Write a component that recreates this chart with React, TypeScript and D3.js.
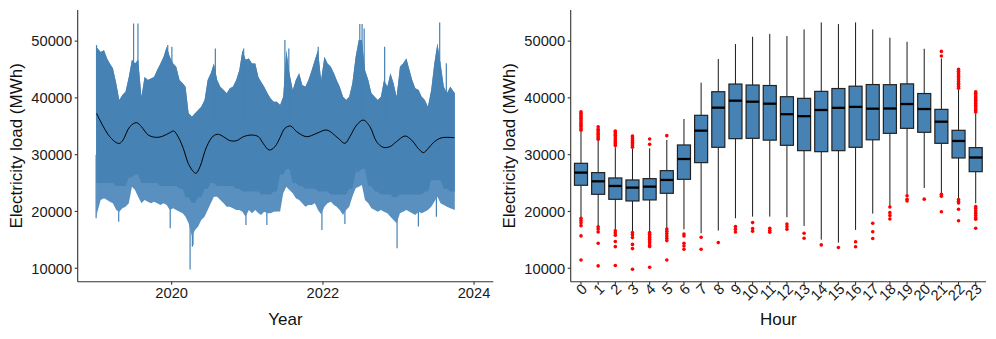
import React, { useEffect, useRef } from "react";
import * as d3 from "d3";

const firstDay = "2019-01-01";
const lastDay = "2023-09-30";
const loadTop = [
  49000, 48100, 48400, 46960, 46080, 45200, 42560, 39630, 40500, 41100, 43700, 46700,
  46080, 46700, 40200, 43700, 43150, 43400, 43700, 44900, 46080, 47250, 49000, 47250,
  46080, 45500, 43150, 42560, 41970, 37280, 36700, 37280, 37870, 38450, 39630, 43150,
  44320, 46080, 43150, 41970, 41390, 40800, 41680, 41970, 43150, 44900, 48400, 46700,
  46960, 46080, 46080, 43700, 42850, 41970, 40800, 39900, 39330, 39330, 38750, 40210,
  48400, 44320, 41390, 43150, 44320, 42270, 41970, 43150, 44900, 46700, 48400, 43150,
  47250, 46080, 45500, 44320, 43150, 41970, 40210, 39630, 40210, 42560, 47250, 50190,
  50190, 44900, 43150, 40800, 40210, 39630, 40210, 43150, 41970, 44320, 42560, 40210,
  45500, 46080, 46960, 44900, 43150, 41680, 41390, 40210, 39630, 38450, 41390, 46080,
  49600, 46080, 41970, 40800, 41970, 40800,
];
const loadBottom = [
  19100, 22000, 22320, 22000, 21730, 21440, 20260, 19970, 20560, 20850, 21440, 24370,
  23790, 22610, 21440, 22000, 21730, 21440, 21730, 21440, 21150, 21440, 21150, 20260,
  20560, 20260, 19970, 19680, 19090, 17920, 15570, 16740, 17330, 18500, 19090, 20260,
  21440, 22610, 22610, 22000, 21440, 20850, 20850, 20560, 20260, 20260, 19970, 19090,
  20260, 19680, 20260, 19680, 19390, 19970, 19680, 19680, 19970, 20000, 20000, 23200,
  24370, 23790, 23200, 22320, 22030, 21440, 20850, 21150, 21150, 21440, 20260, 19500,
  20850, 21440, 21730, 21150, 20850, 20260, 19390, 20260, 20850, 22610, 24080, 24370,
  24660, 22030, 21440, 20560, 20260, 19970, 20260, 19970, 19680, 19090, 18500, 17920,
  19680, 19970, 20260, 19970, 19680, 19390, 19970, 19680, 19970, 20260, 20850, 21730,
  22610, 21440, 21150, 20850, 20560, 20260,
];
// monthly lower edge of the dense (dark) part of the series
const coreBottom = [
  25000, 25000, 25000, 24500, 24500, 26000, 26500, 25000, 25000, 25000, 24500, 24500,
  24500, 24000, 22500, 21500, 22500, 24000, 25000, 24500, 24500, 24500, 24000, 23500,
  23500, 23500, 23000, 23000, 23500, 26500, 27500, 25000, 24500, 24000, 24000, 23500,
  23500, 23000, 23000, 23000, 24000, 27000, 27500, 24500, 23500, 23000, 23000, 22500,
  23000, 23000, 23000, 23000, 23500, 25500, 25500, 24000, 23500,
];
const peakDates = [
  "2019-01-03", "2019-07-01", "2019-07-22", "2019-12-13", "2020-01-02", "2020-07-30",
  "2020-12-14", "2021-07-01", "2021-07-20", "2021-12-09", "2022-06-28", "2022-07-09",
  "2022-07-19", "2022-10-26", "2023-07-19", "2023-08-20",
];
const peakValues = [
  49300, 53100, 53100, 49300, 49000, 48700, 48700, 50200, 48700, 49000, 53000, 53000,
  52200, 49000, 53300, 46100,
];
const troughDates = [
  "2019-01-01", "2019-04-20", "2019-12-25", "2020-03-30", "2020-04-10", "2020-04-13",
  "2020-12-25", "2021-04-05", "2021-12-27", "2022-04-17", "2022-12-25", "2023-04-07",
  "2023-07-03",
];
const troughValues = [
  18800, 18200, 17040, 9800, 13800, 14100, 17620, 17600, 16740, 17800, 13520, 17330,
  19090,
];
// smoothed trend (black line)
const trendDates = [
  "2019-01-03", "2019-02-05", "2019-03-08", "2019-04-09", "2019-04-25", "2019-05-11",
  "2019-06-13", "2019-07-15", "2019-08-08", "2019-09-10", "2019-10-20", "2019-11-21",
  "2019-12-23", "2020-01-11", "2020-02-01", "2020-02-26", "2020-03-21", "2020-04-15",
  "2020-04-28", "2020-05-17", "2020-06-18", "2020-07-20", "2020-08-14", "2020-09-07",
  "2020-10-09", "2020-11-10", "2020-12-13", "2021-01-22", "2021-02-23", "2021-03-18",
  "2021-04-16", "2021-05-14", "2021-06-08", "2021-07-01", "2021-07-29", "2021-08-27",
  "2021-10-14", "2021-12-02", "2022-01-19", "2022-03-16", "2022-04-17", "2022-05-11",
  "2022-06-13", "2022-07-15", "2022-08-16", "2022-09-17", "2022-10-19", "2022-11-20",
  "2022-12-22", "2023-02-01", "2023-03-05", "2023-04-06", "2023-05-01", "2023-05-25",
  "2023-06-18", "2023-07-20", "2023-08-13", "2023-09-28",
];
const trendValues = [
  37280, 34930, 33170, 32110, 32000, 32580, 34930, 35640, 34930, 33460, 33050, 33290,
  33870, 34170, 33170, 31120, 28480, 27010, 26720, 27890, 31410, 33290, 33580, 33170,
  32470, 32470, 33170, 33460, 33170, 32000, 30820, 31410, 33050, 34640, 35050, 34050,
  33170, 33760, 34340, 32880, 32000, 33170, 35230, 36100, 34930, 32290, 31300, 31410,
  32290, 33290, 32580, 31120, 30360, 31120, 32110, 32880, 33050, 32990,
];
const yearTicks = ["2020-01-01", "2022-01-01", "2024-01-01"];

// ---- right panel: load by hour of day
const hours = [
  "0", "1", "2", "3", "4", "5", "6", "7", "8", "9", "10", "11",
  "12", "13", "14", "15", "16", "17", "18", "19", "20", "21", "22", "23",
];
const whiskerLow = [
  18980, 17450, 16750, 16450, 16450, 17040, 16860, 16160, 16630, 18800, 19090, 19090,
  18980, 17450, 15040, 14520, 16750, 19620, 20900, 23000, 24140, 23200, 22320, 21440,
];
const boxQ1 = [
  24610, 23020, 22140, 21850, 22030, 23200, 25660, 28600, 31300, 32820, 32880, 32560,
  31650, 30710, 30530, 30710, 31300, 32620, 33760, 34640, 33940, 32000, 29420, 27010,
];
const boxMedian = [
  26840, 25310, 24490, 24200, 24370, 25550, 29240, 34230, 38280, 39510, 39330, 38980,
  37130, 36780, 37870, 38250, 38420, 38100, 38130, 38920, 38040, 35810, 32410, 29500,
];
const boxQ3 = [
  28480, 26840, 25900, 25550, 25780, 27190, 31710, 36930, 41090, 42440, 42270, 42180,
  40210, 39920, 41150, 41650, 42060, 42350, 42330, 42470, 40770, 37980, 34290, 31240,
];
const whiskerHigh = [
  34050, 32410, 31300, 31000, 31120, 32590, 36280, 42680, 46840, 49480, 50770, 51270,
  50890, 52060, 53300, 53000, 53300, 52060, 50600, 49890, 48660, 46930, 41440, 37280,
];
const outliers = [
  [34300, 34600, 34900, 35200, 35500, 35800, 36100, 36400, 36700, 37000, 37300, 37550,
    18800, 18400, 18000, 17500, 15700, 11460],
  [32700, 33000, 33300, 33600, 33900, 34200, 34500, 34900, 17300, 16900, 16400, 14400, 10410],
  [31600, 31900, 32200, 32500, 32800, 33100, 33400, 33700, 34000, 34170,
    16600, 16200, 15800, 14700, 13800, 10470],
  [31300, 31600, 31900, 32200, 32500, 32800, 33100, 33290, 16300, 15900, 15400, 14200, 13460, 9820],
  [31820, 32760, 16300, 16000, 15700, 15400, 15100, 14800, 14500, 14100, 13810, 10170],
  [33350, 16900, 16500, 16100, 15700, 15300, 14870, 11460],
  [16040, 15690, 14400, 13930, 13340],
  [15450, 13340],
  [14520],
  [17330, 16860, 16390],
  [18040, 16980, 16510],
  [17040, 16630, 16330],
  [17800, 17330, 16860],
  [16160, 15280],
  [14110],
  [13640],
  [14660, 13780],
  [17920, 16420, 15250],
  [20790, 19790, 19270, 18680],
  [22760, 22140, 21850],
  [22170],
  [47370, 48190, 23020, 22700, 19940],
  [41700, 42000, 42300, 42600, 42900, 43200, 43500, 43800, 44100, 44400, 44700, 45020,
    22100, 21800, 21500, 20380, 18360],
  [37500, 37800, 38100, 38400, 38700, 39000, 39300, 39600, 39900, 40200, 40500, 40800, 41090,
    20850, 20500, 20100, 19700, 19300, 18900, 18620, 17040],
];
const loadTicks = [10000, 20000, 30000, 40000, 50000];

const BLUE = "steelblue";
const PALE = "#5a90bf";
const FONT = "'Liberation Sans', Arial, Helvetica, sans-serif";

function App() {
  const ref = useRef<SVGSVGElement | null>(null);

  function drawChart() {
    const svg = d3.select(ref.current);
    svg.selectAll("*").remove();
    const parse = d3.timeParse("%Y-%m-%d");

    const top = 10;
    const bottom = 281.7;
    const y = d3.scaleLinear().domain([7630, 55480]).range([bottom, top]);

    const addYAxis = (x0: number, titleX: number) => {
      const g = svg.append("g");
      g.append("line")
        .attr("x1", x0).attr("x2", x0).attr("y1", top).attr("y2", bottom)
        .attr("stroke", "#333").attr("stroke-width", 1.1);
      g.selectAll(".tk").data(loadTicks).join("line")
        .attr("x1", x0 - 3).attr("x2", x0)
        .attr("y1", (d) => y(d)).attr("y2", (d) => y(d))
        .attr("stroke", "#333").attr("stroke-width", 1.1);
      g.selectAll(".lb").data(loadTicks).join("text")
        .attr("x", x0 - 5.5).attr("y", (d) => y(d))
        .attr("dy", "0.36em")
        .attr("text-anchor", "end")
        .attr("font-size", 14.7).attr("font-family", FONT).attr("fill", "#1a1a1a")
        .text((d) => d);
      g.append("text")
        .attr("transform", `translate(${titleX},${(top + bottom) / 2}) rotate(-90)`)
        .attr("text-anchor", "middle")
        .attr("font-size", 17).attr("font-family", FONT).attr("fill", "#111")
        .text("Electricity load (MWh)");
    };

    // ---------------- left panel
    const x = d3.scaleTime()
      .domain([parse("2018-10-04")!, parse("2024-04-03")!])
      .range([77.7, 493.3]);

    const start = parse(firstDay)!;
    const end = parse(lastDay)!;
    // half-month slots: 8th and 23rd of each month, ends pinned to first/last day
    const slotX = (i: number) =>
      x(i === 0 ? start
        : i === loadTop.length - 1 ? end
        : d3.timeDay.offset(d3.timeMonth.offset(start, Math.floor(i / 2)), i % 2 ? 22 : 7));

    const full = d3.area<number>()
      .x((_, i) => slotX(i))
      .y0((_, i) => y(loadBottom[i]))
      .y1((d) => y(d));
    const core = d3.area<number>()
      .x((_, i) => slotX(i))
      .y0((_, i) => y(Math.max(coreBottom[Math.floor(i / 2)], loadBottom[i])))
      .y1((d) => y(d));

    const left = svg.append("g");
    left.selectAll(".tr").data(troughDates).join("line")
      .attr("x1", (d) => x(parse(d)!)).attr("x2", (d) => x(parse(d)!))
      .attr("y1", y(30000)).attr("y2", (_, i) => y(troughValues[i]))
      .attr("stroke", BLUE).attr("stroke-width", 1.2);
    left.append("path").datum(loadTop)
      .attr("d", full).attr("fill", PALE);
    left.append("path").datum(loadTop)
      .attr("d", core).attr("fill", BLUE);
    left.selectAll(".pk").data(peakDates).join("line")
      .attr("x1", (d) => x(parse(d)!)).attr("x2", (d) => x(parse(d)!))
      .attr("y1", y(36000)).attr("y2", (_, i) => y(peakValues[i]))
      .attr("stroke", BLUE).attr("stroke-width", 1.2);

    const trend = d3.line<string>()
      .x((d) => x(parse(d)!))
      .y((_, i) => y(trendValues[i]))
      .curve(d3.curveCatmullRom);
    left.append("path").datum(trendDates)
      .attr("d", trend).attr("fill", "none")
      .attr("stroke", "black").attr("stroke-width", 1);

    addYAxis(77.7, 22);
    left.append("line")
      .attr("x1", 77.7).attr("x2", 493.3).attr("y1", bottom).attr("y2", bottom)
      .attr("stroke", "#333").attr("stroke-width", 1.1);
    left.selectAll(".xt").data(yearTicks).join("line")
      .attr("x1", (d) => x(parse(d)!)).attr("x2", (d) => x(parse(d)!))
      .attr("y1", bottom).attr("y2", bottom + 3)
      .attr("stroke", "#333").attr("stroke-width", 1.1);
    left.selectAll(".xl").data(yearTicks).join("text")
      .attr("x", (d) => x(parse(d)!)).attr("y", 298)
      .attr("text-anchor", "middle")
      .attr("font-size", 14.7).attr("font-family", FONT).attr("fill", "#1a1a1a")
      .text((d) => d.slice(0, 4));
    left.append("text")
      .attr("x", (77.7 + 493.3) / 2).attr("y", 324.5)
      .attr("text-anchor", "middle")
      .attr("font-size", 17).attr("font-family", FONT).attr("fill", "#111")
      .text("Year");

    // ---------------- right panel
    const hx = d3.scalePoint<string>().domain(hours).range([570.7, 986]).padding(0.6);
    const bw = hx.step() * 0.76;
    const right = svg.append("g");

    const boxes = right.selectAll(".bx").data(hours).join("g");
    boxes.append("line")
      .attr("x1", (d) => hx(d)!).attr("x2", (d) => hx(d)!)
      .attr("y1", (_, i) => y(whiskerHigh[i])).attr("y2", (_, i) => y(boxQ3[i]))
      .attr("stroke", "#1a1a1a").attr("stroke-width", 1);
    boxes.append("line")
      .attr("x1", (d) => hx(d)!).attr("x2", (d) => hx(d)!)
      .attr("y1", (_, i) => y(boxQ1[i])).attr("y2", (_, i) => y(whiskerLow[i]))
      .attr("stroke", "#1a1a1a").attr("stroke-width", 1);
    boxes.append("rect")
      .attr("x", (d) => hx(d)! - bw / 2).attr("width", bw)
      .attr("y", (_, i) => y(boxQ3[i]))
      .attr("height", (_, i) => y(boxQ1[i]) - y(boxQ3[i]))
      .attr("fill", BLUE).attr("stroke", "#222").attr("stroke-width", 1.2);
    boxes.append("line")
      .attr("x1", (d) => hx(d)! - bw / 2).attr("x2", (d) => hx(d)! + bw / 2)
      .attr("y1", (_, i) => y(boxMedian[i])).attr("y2", (_, i) => y(boxMedian[i]))
      .attr("stroke", "black").attr("stroke-width", 2.3);
    boxes.each(function (h, i) {
      d3.select(this).selectAll("circle").data(outliers[i]).join("circle")
        .attr("cx", hx(h)!).attr("cy", (d) => y(d)).attr("r", 1.8)
        .attr("fill", "red");
    });

    addYAxis(570.7, 515);
    right.append("line")
      .attr("x1", 570.7).attr("x2", 986).attr("y1", bottom).attr("y2", bottom)
      .attr("stroke", "#333").attr("stroke-width", 1.1);
    right.selectAll(".ht").data(hours).join("line")
      .attr("x1", (d) => hx(d)!).attr("x2", (d) => hx(d)!)
      .attr("y1", bottom).attr("y2", bottom + 3)
      .attr("stroke", "#333").attr("stroke-width", 1.1);
    right.selectAll(".hl").data(hours).join("text")
      .attr("transform", (d) => `translate(${hx(d)! + 7},290) rotate(-45)`)
      .attr("text-anchor", "end")
      .attr("font-size", 14.7).attr("font-family", FONT).attr("fill", "#1a1a1a")
      .text((d) => d);
    right.append("text")
      .attr("x", (570.7 + 986) / 2).attr("y", 324.5)
      .attr("text-anchor", "middle")
      .attr("font-size", 17).attr("font-family", FONT).attr("fill", "#111")
      .text("Hour");
  }

  useEffect(() => {
    drawChart();
  }, []);

  return (
    <div style={{ position: "absolute", left: 0, top: 0, background: "white" }}>
      <svg ref={ref} width={996} height={339} style={{ display: "block" }} />
    </div>
  );
}

export default App;
